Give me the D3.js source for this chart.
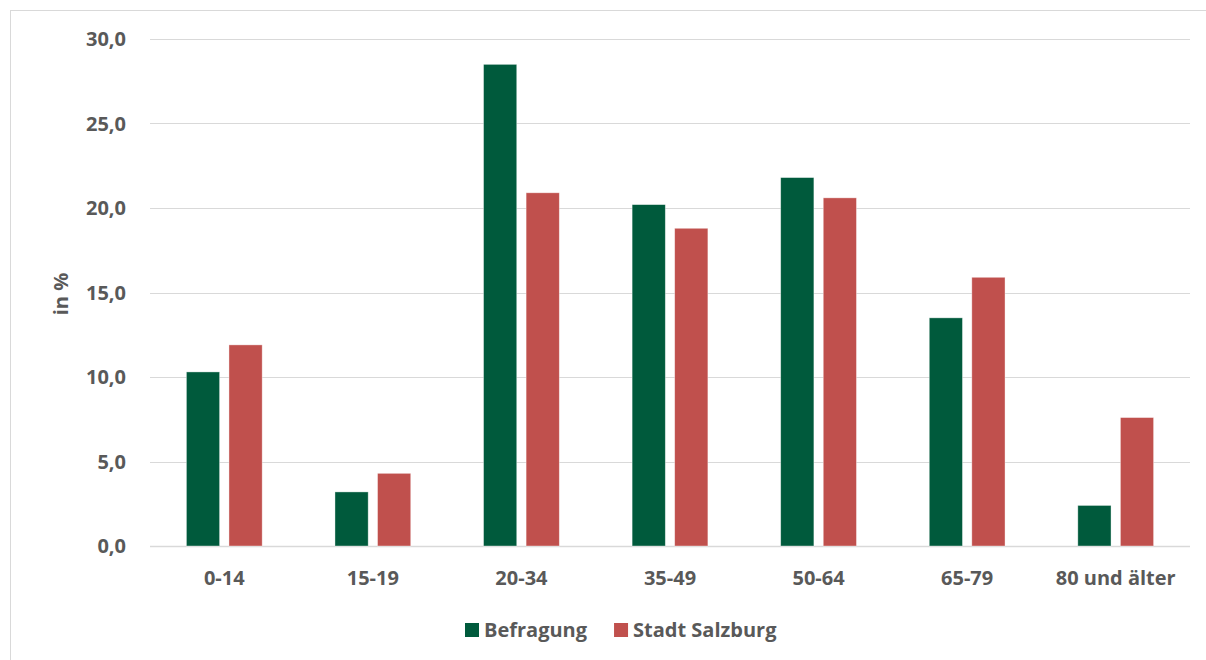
<!DOCTYPE html>
<html>
<head>
<meta charset="utf-8">
<script src="https://cdn.jsdelivr.net/npm/d3@7"></script>
<style>
  body { margin: 0; background: #fff; }
  text { fill: #595959; font-weight: bold; font-family: "Open Sans", sans-serif; font-size: 20px; }
</style>
</head>
<body>
<div id="chart"></div>
<script>
// data
var categories = ['0-14', '15-19', '20-34', '35-49', '50-64', '65-79', '80 und älter'];
var befragung = [10.3, 3.2, 28.5, 20.2, 21.8, 13.5, 2.4];
var stadtSalzburg = [11.9, 4.3, 20.9, 18.8, 20.6, 15.9, 7.6];
var seriesNames = ['Befragung', 'Stadt Salzburg'];
var seriesColors = ['#005a3c', '#c0504d'];
var yTicks = [0, 5, 10, 15, 20, 25, 30];

var width = 1206, height = 660;
var margin = { left: 150, right: 16, top: 39, bottom: 114 };

var svg = d3.select('#chart').append('svg')
  .attr('width', width)
  .attr('height', height);

// outer frame
svg.append('rect')
  .attr('x', 10.5).attr('y', 10.5)
  .attr('width', width).attr('height', height)
  .attr('fill', 'none').attr('stroke', '#d9d9d9');

var x = d3.scaleBand()
  .domain(categories)
  .range([margin.left, width - margin.right])
  .paddingInner(0.49).paddingOuter(0.245);

var xSub = d3.scaleBand()
  .domain(seriesNames)
  .range([0, x.bandwidth()])
  .paddingInner(0.22);

var y = d3.scaleLinear()
  .domain([0, 30])
  .range([height - margin.bottom, margin.top]);

// gridlines
svg.append('g').selectAll('line')
  .data(yTicks)
  .enter().append('line')
  .attr('x1', margin.left).attr('x2', width - margin.right)
  .attr('y1', function (d) { return Math.round(y(d)) + 0.5; })
  .attr('y2', function (d) { return Math.round(y(d)) + 0.5; })
  .attr('stroke', '#d9d9d9')
  .attr('stroke-width', function (d) { return d === 0 ? 1.5 : 1; });

// y tick labels
svg.append('g').selectAll('text')
  .data(yTicks)
  .enter().append('text')
  .attr('x', 126)
  .attr('y', function (d) { return y(d); })
  .attr('dy', '0.36em')
  .attr('text-anchor', 'end')
  .text(function (d) { return d3.format('.1f')(d).replace('.', ','); });

// y axis title
svg.append('text')
  .attr('transform', 'translate(68,294) rotate(-90)')
  .attr('text-anchor', 'middle')
  .text('in %');

// bars
var rows = categories.map(function (c, i) {
  return { cat: c, values: [befragung[i], stadtSalzburg[i]] };
});

var groups = svg.append('g').selectAll('g')
  .data(rows)
  .enter().append('g')
  .attr('transform', function (d) { return 'translate(' + x(d.cat) + ',0)'; });

groups.selectAll('rect')
  .data(function (d) {
    return d.values.map(function (v, k) { return { name: seriesNames[k], value: v, k: k }; });
  })
  .enter().append('rect')
  .attr('x', function (d) { return xSub(d.name); })
  .attr('width', xSub.bandwidth())
  .attr('y', function (d) { return y(d.value); })
  .attr('height', function (d) { return y(0) - y(d.value); })
  .attr('fill', function (d) { return seriesColors[d.k]; })
  .attr('stroke', '#ffffff')
  .attr('stroke-opacity', 0.5)
  .attr('stroke-width', 0.75);

// x labels
svg.append('g').selectAll('text')
  .data(categories)
  .enter().append('text')
  .attr('x', function (d) { return x(d) + x.bandwidth() / 2; })
  .attr('y', 585)
  .attr('text-anchor', 'middle')
  .text(function (d) { return d; });

// legend
var legend = svg.append('g');
var lx = 465;
seriesNames.forEach(function (name, i) {
  var item = legend.append('g').attr('transform', 'translate(' + lx + ',623)');
  item.append('rect')
    .attr('width', 14).attr('height', 14)
    .attr('fill', seriesColors[i]);
  var t = item.append('text')
    .attr('x', 19).attr('y', 14)
    .text(name);
  lx += 19 + t.node().getComputedTextLength() + 27;
});
</script>
</body>
</html>
